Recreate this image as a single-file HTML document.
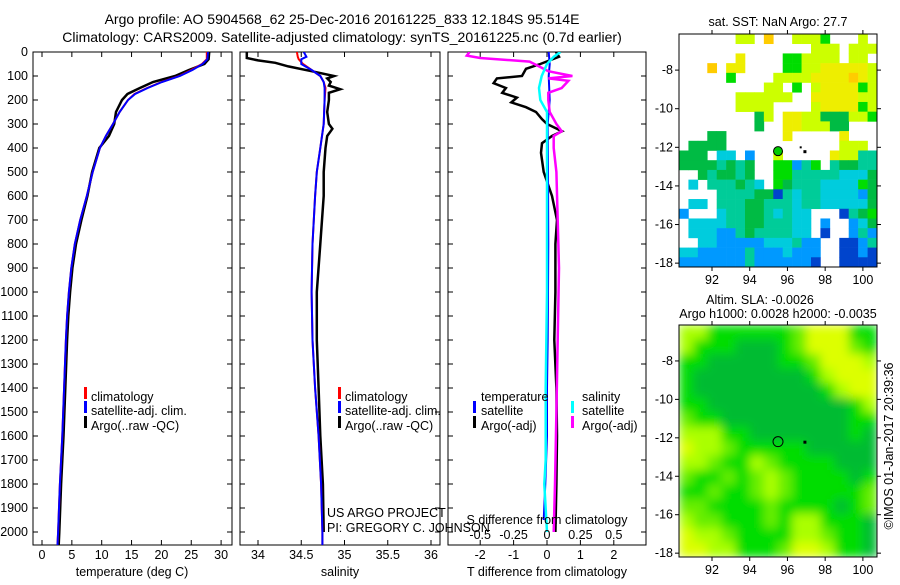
<!DOCTYPE html>
<html><head><meta charset="utf-8"><style>
body{margin:0;background:#fff;}
svg text{font-family:"Liberation Sans",sans-serif;font-size:12.5px;fill:#000;}
</style></head><body>
<svg id="fig" width="900" height="580" viewBox="0 0 900 580" xmlns="http://www.w3.org/2000/svg">
<defs>
<clipPath id="c1"><rect x="33" y="52" width="199" height="493"/></clipPath>
<clipPath id="c2"><rect x="240" y="52" width="200" height="493"/></clipPath>
<clipPath id="c3"><rect x="448" y="52" width="198" height="493"/></clipPath>
<clipPath id="cm2"><rect x="679" y="325" width="198" height="232"/></clipPath>
<filter id="blur" x="0" y="0" width="1" height="1"><feGaussianBlur stdDeviation="5" edgeMode="duplicate"/></filter>
</defs>
<text x="342" y="24" text-anchor="middle" style="font-size:14px">Argo profile: AO 5904568_62 25-Dec-2016 20161225_833 12.184S 95.514E</text>
<text x="342" y="42" text-anchor="middle" style="font-size:14px">Climatology: CARS2009. Satellite-adjusted climatology: synTS_20161225.nc (0.7d earlier)</text>
<g id="g1"></g>
<g id="g2"></g>
<g id="g3"></g>
<g id="m1"></g>
<g id="m2"></g>
</svg>
<script>
// ---- profile data ----
const depthT = [0,30,50,75,100,125,150,175,200,250,300,350,400,500,600,700,800,900,1000,1100,1200,1400,1600,1800,2000,2054];
const tempClim = [27.6,27.6,26.8,25,23,20,17.6,15.5,14.4,13,11.9,10.7,9.7,8.5,7.5,6.4,5.5,4.9,4.5,4.2,4.0,3.7,3.4,3.0,2.7,2.6];
const tempSat  = [27.8,27.7,26.9,25.2,23.1,20.1,17.7,15.6,14.4,13,11.9,10.7,9.7,8.5,7.5,6.4,5.5,4.9,4.5,4.2,4.0,3.7,3.4,3.0,2.7,2.6];
const tempArgo = [28,27.9,27.2,24.6,22.3,18.6,16.4,14.3,13.4,12.4,12.1,11.2,9.6,8.4,7.6,6.6,5.7,5.1,4.7,4.4,4.2,3.9,3.6,3.2,2.9,2.8];
const depthS = [0,20,30,50,75,100,125,150,200,300,400,500,600,800,1000,1200,1400,1600,1800,2000,2054];
const salClim = [34.45,34.46,34.47,34.52,34.62,34.72,34.76,34.78,34.77,34.76,34.72,34.68,34.66,34.63,34.62,34.63,34.66,34.70,34.73,34.745,34.745];
const salSat  = [34.53,34.56,34.50,34.50,34.62,34.72,34.76,34.77,34.77,34.76,34.72,34.68,34.66,34.63,34.62,34.63,34.66,34.70,34.73,34.745,34.745];
const depthSA = [0,25,35,45,60,80,100,110,125,140,155,170,200,250,300,320,350,400,500,600,800,1000,1200,1400,1600,1800,2000];
const salArgo = [33.87,33.87,34.0,34.2,34.35,34.62,34.88,34.8,34.84,34.82,34.95,34.82,34.82,34.8,34.82,34.86,34.8,34.78,34.76,34.76,34.72,34.68,34.68,34.70,34.72,34.75,34.76];
const depthD = [0,20,50,70,100,110,130,150,170,190,210,230,250,280,300,330,350,380,420,500,600,700,800,1000,1200,1400,1600,1800,2000];
const tdArgo = [0.27,0.36,-0.2,-0.63,-0.75,-1.5,-1.6,-1.23,-1.34,-0.9,-1.07,-0.63,-0.33,-0.15,0,0.45,0.15,-0.15,-0.18,-0.1,0.15,0.3,0.25,0.25,0.22,0.28,0.3,0.28,0.25];
const depthTS = [0,50,100,200,300,500,800,1000,1200,1400,1600,1800,1950];
const tdSat = [0.05,0.08,0.05,0.08,0.02,0.03,0.04,0.03,0.02,0.0,0.0,-0.05,-0.1];
const depthSD = [0,15,25,40,60,80,100,110,120,150,170,200,250,300,330,350,400,500,700,900,1200,1500,1800,2000];
const sdArgo = [-0.58,-0.6,-0.5,-0.13,-0.06,0.01,0.19,0.01,0.16,0.11,0.01,0.01,0.02,0.07,0.11,0.05,0.05,0.07,0.08,0.09,0.08,0.07,0.06,0.05];
const depthSS = [0,20,50,100,150,200,250,300,600,1000,1400,1700,1800,2000];
const sdSat = [0.1,0.05,0,-0.04,-0.06,-0.05,0,0,0,0,-0.01,-0.01,-0.02,0];
const depthTicks = [0,100,200,300,400,500,600,700,800,900,1000,1100,1200,1300,1400,1500,1600,1700,1800,1900,2000];
const tTicks = [0,5,10,15,20,25,30];
const sTicks = [34,34.5,35,35.5,36];
const tdTicks = [-2,-1,0,1,2];
const sdTicks = [-0.5,-0.25,0,0.25,0.5];

// ---- map data ----
const lonTicks = [92,94,96,98,100];
const latTicks = [-8,-10,-12,-14,-16,-18];
const sstGrid = [
"      yy o  yyyg   y ",
"              yyy yyy",
"      Y    ggyyyy yy ",
"   o YY    ggyyYYYYYy",
"     g    yyyyYYYYoYy",
"         yy g yYYYYgy",
"      yyyyyy  YYYYYyy",
"      yyyy    yYYYYgy",
"        Gy YYyyGGGyyg",
"        G  YYyyyGG   ",
"   GG      Y     Y   ",
" GGGG            yyy ",
"GGG cc b  y     Yyytt",
"GGGGtGtG  ggbtg tGGtt",
"  GtGGtG  ggtttttcccG",
" c tttGtc gGtttccccgG",
"    ttttGGBtcttccccbG",
" cc tttGGtttcttcccccG",
"b   cttGGtctcc   BtGg",
" ccccttGGtttcc b  bcG",
" cccbbtGttttcc B  btb",
"  ccbbbbbccctbb  BBbt",
"ccbbbbbtbbbcbbb  BBbB",
"bbbbbbbtbbbbbbB  BBBB"];
const slaGrid = [
"yygggggglYYYgg",
"ygggdddglYYYlg",
"ggdddddgglYYYy",
"gddddddddgyYYY",
"gdddddddddgyYY",
"ggddddddddddgy",
"lggdddddddddgg",
"yyyggdddddddgd",
"Yyylgggggddddd",
"yylggylggggddd",
"lgglglylggggdg",
"gglgglylgggggl",
"llgggglggggdgl",
"yllggglgyygggd",
"Yyylggggyylggd",
"YYyyggglYYyggd"];
const sstColors = {y:'#ccff00',Y:'#eeee00',o:'#ffcc00',g:'#00dd00',G:'#00bb44',t:'#00cc99',c:'#00ccdd',b:'#0099ff',B:'#0044cc'};
const slaColors = {Y:'#ddff00',y:'#aaff00',l:'#66ee00',g:'#00dd00',d:'#00bb33'};

const NS='http://www.w3.org/2000/svg';
function mk(tag, attrs, parent){const e=document.createElementNS(NS,tag);for(const k in attrs)e.setAttribute(k,attrs[k]);parent.appendChild(e);return e;}
const yD = d => 52 + d*0.24;
const x1 = v => 42 + v*5.97;
const x2 = v => 258 + (v-34)*86.5;
const x3 = v => 547 + v*33.4;
const x3s = v => 547 + v*133.6;

function frame(g,x0,x1_,name){
  const r=mk('rect',{x:x0,y:52,width:x1_-x0,height:493,fill:'none',stroke:'#000','stroke-width':1},g);
  
  
}
function line(g,xs,ys,fx,color,w,clip,name){
  const pts=xs.map((v,i)=>fx(v).toFixed(1)+','+yD(ys[i]).toFixed(1)).join(' ');
  const p=mk('polyline',{points:pts,fill:'none',stroke:color,'stroke-width':w,'clip-path':'url(#'+clip+')'},g);
  
  
}
function xticks(g,ticks,fx,labelY,name){
  ticks.forEach(t=>{
    const x=fx(t);
    mk('line',{x1:x,x2:x,y1:545,y2:540,stroke:'#000'},g);
    mk('line',{x1:x,x2:x,y1:52,y2:57,stroke:'#000'},g);
    const tx=mk('text',{x:x,y:labelY,'text-anchor':'middle'},g);
    tx.textContent=String(t);
    
    
  });
}
function ldepth(g,x0,x1_){
  depthTicks.forEach(d=>{mk('line',{x1:x0,x2:x0+5,y1:yD(d),y2:yD(d),stroke:'#000'},g);mk('line',{x1:x1_,x2:x1_-5,y1:yD(d),y2:yD(d),stroke:'#000'},g);});
}
function txt(g,x,y,s,name,anchor){
  const t=mk('text',{x:x,y:y,'text-anchor':anchor||'start'},g);t.textContent=s;
  
  
  return t;
}
function legBar(g,x,y,color){mk('rect',{x:x,y:y-10,width:3,height:12,fill:color},g);}

// Panel 1
const g1=document.getElementById('g1');
frame(g1,33,232,'temperature-plot-frame');
ldepth(g1,33,232);
depthTicks.forEach(d=>{
  const t=mk('text',{x:28,y:yD(d)+4,'text-anchor':'end'},g1);t.textContent=String(d);
  
  
});
xticks(g1,tTicks,x1,559,'temperature-tick-label');
txt(g1,132,576,'temperature (deg C)','temperature-axis-title','middle');
line(g1,tempArgo,depthT,x1,'#000',2.5,'c1','argo-temperature-line');
line(g1,tempClim,depthT,x1,'#ff0000',2,'c1','clim-temperature-line');
line(g1,tempSat,depthT,x1,'#0000ff',2,'c1','sat-temperature-line');
legBar(g1,84,397,'#ff0000');txt(g1,91,401,'climatology','legend-climatology');
legBar(g1,84,411,'#0000ff');txt(g1,91,415,'satellite-adj. clim.','legend-satellite-adj');
legBar(g1,84,426,'#000');txt(g1,91,430,'Argo(..raw -QC)','legend-argo');

// Panel 2
const g2=document.getElementById('g2');
frame(g2,240,440,'salinity-plot-frame');
ldepth(g2,240,440);
xticks(g2,sTicks,x2,559,'salinity-tick-label');
txt(g2,340,576,'salinity','salinity-axis-title','middle');
line(g2,salArgo,depthSA,x2,'#000',2.5,'c2','argo-salinity-line');
line(g2,salClim,depthS,x2,'#ff0000',2,'c2','clim-salinity-line');
line(g2,salSat,depthS,x2,'#0000ff',2,'c2','sat-salinity-line');
legBar(g2,338,397,'#ff0000');txt(g2,345,401,'climatology','legend-climatology');
legBar(g2,338,411,'#0000ff');txt(g2,345,415,'satellite-adj. clim.','legend-satellite-adj');
legBar(g2,338,426,'#000');txt(g2,345,430,'Argo(..raw -QC)','legend-argo');

// Panel 3
const g3=document.getElementById('g3');
frame(g3,448,646,'difference-plot-frame');
ldepth(g3,448,646);
xticks(g3,tdTicks,x3,559,'t-diff-tick-label');
txt(g3,547,576,'T difference from climatology','t-diff-axis-title','middle');
line(g3,tdArgo,depthD,x3,'#000',2.5,'c3','argo-t-diff-line');
line(g3,tdSat,depthTS,x3,'#0000ff',2,'c3','sat-t-diff-line');
line(g3,sdArgo,depthSD,x3s,'#ff00ff',2.5,'c3','argo-s-diff-line');
line(g3,sdSat,depthSS,x3s,'#00ffff',2.5,'c3','sat-s-diff-line');
sdTicks.forEach(t=>{txt(g3,x3s(t),539,String(t),'s-diff-tick-label','middle');});
txt(g3,547,524,'S difference from climatology','s-diff-axis-title','middle');
txt(g3,481,401,'temperature','legend-temperature-header');
legBar(g3,473,411,'#0000ff');txt(g3,481,415,'satellite','legend-t-satellite');
legBar(g3,473,426,'#000');txt(g3,481,430,'Argo(-adj)','legend-t-argo');
txt(g3,582,401,'salinity','legend-salinity-header');
legBar(g3,571,411,'#00ffff');txt(g3,582,415,'satellite','legend-s-satellite');
legBar(g3,571,426,'#ff00ff');txt(g3,582,430,'Argo(-adj)','legend-s-argo');
txt(g3,327,517,'US ARGO PROJECT','credit-project');
txt(g3,327,532,'PI: GREGORY C. JOHNSON','credit-pi');

// Maps
const mx = lon => 679 + (lon-90.25)*18.86;
function mapAxes(g,top,bottom,latTop){
  const my = lat => top + (latTop-lat)*((bottom-top)/(latTop+18.2));
  mk('rect',{x:679,y:top,width:198,height:bottom-top,fill:'none',stroke:'#000'},g);
  lonTicks.forEach(l=>{
    mk('line',{x1:mx(l),x2:mx(l),y1:bottom,y2:bottom+4,stroke:'#000'},g);
    mk('line',{x1:mx(l),x2:mx(l),y1:top,y2:top-4,stroke:'#000'},g);
    txt(g,mx(l),bottom+17,String(l),'lon-tick-label','middle');
  });
  latTicks.forEach(l=>{
    mk('line',{x1:679,x2:675,y1:my(l),y2:my(l),stroke:'#000'},g);
    mk('line',{x1:877,x2:881,y1:my(l),y2:my(l),stroke:'#000'},g);
    txt(g,673,my(l)+4,String(l),'lat-tick-label','end');
  });
  return my;
}
const m1=document.getElementById('m1');
const cw=198/21, ch=(267-34)/24;
sstGrid.forEach((row,j)=>{
  for(let i=0;i<21;i++){const c=row[i]||' ';if(c===' ')continue;
    const r=mk('rect',{x:(679+i*cw).toFixed(2),y:(34+j*ch).toFixed(2),width:(cw+0.3).toFixed(2),height:(ch+0.3).toFixed(2),fill:sstColors[c]},m1);
    
    
  }
});
const my1=mapAxes(m1,34,267,-6.13);
txt(m1,778,26,'sat. SST: NaN Argo: 27.7','sst-map-title','middle');
const dot=mk('circle',{cx:mx(95.5),cy:my1(-12.2),r:4.5,fill:'#00cc00',stroke:'#000','stroke-width':1},m1);


mk('rect',{x:mx(96.9)-1,y:my1(-12.2)-1,width:3,height:3,fill:'#000'},m1);
mk('rect',{x:mx(96.65),y:my1(-11.95),width:2,height:2,fill:'#000'},m1);

const m2=document.getElementById('m2');
const gb=mk('g',{'clip-path':'url(#cm2)'},m2);
const gi=mk('g',{filter:'url(#blur)'},gb);
const cw2=198/14, ch2=232/16;
slaGrid.forEach((row,j)=>{
  for(let i=0;i<14;i++){const c=row[i]||'g';
    const r=mk('rect',{x:(679+i*cw2).toFixed(2),y:(325+j*ch2).toFixed(2),width:(cw2+0.5).toFixed(2),height:(ch2+0.5).toFixed(2),fill:slaColors[c]},gi);
    
    
  }
});
const my2=mapAxes(m2,325,557,-6.13);
txt(m2,760,304,'Altim. SLA: -0.0026','sla-map-title','middle');
txt(m2,778,318,'Argo h1000: 0.0028 h2000: -0.0035','sla-map-subtitle','middle');
const ring=mk('circle',{cx:mx(95.5),cy:my2(-12.2),r:5,fill:'none',stroke:'#000','stroke-width':1},m2);


mk('rect',{x:mx(96.9)-1,y:my2(-12.2)-1,width:3,height:3,fill:'#000'},m2);
const stamp=txt(m2,0,0,'©IMOS 01-Jan-2017 20:39:36','imos-timestamp','middle');
stamp.setAttribute('transform','translate(893,446) rotate(-90)');
</script>
</body></html>
